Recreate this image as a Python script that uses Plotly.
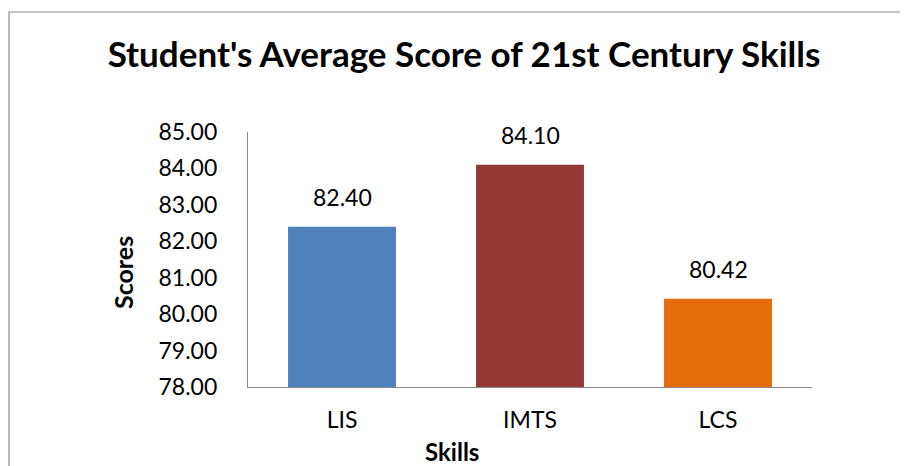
import plotly.graph_objects as go

categories = ["LIS", "IMTS", "LCS"]
scores = [82.40, 84.10, 80.42]
colors = ["#4F81BD", "#953735", "#E46C0A"]
y_ticks = [78, 79, 80, 81, 82, 83, 84, 85]
title_text = "Student's Average Score of 21st Century Skills"

FONT = "Lato"
OFF = 8  # page body margin
W, H = 908 - OFF, 466 - OFF
L, T = 248 - OFF, 132 - OFF
R = W - (812 - OFF)
B = H - (387 - OFF)
pw, ph = W - L - R, H - T - B

def px_x(px):
    return (px - OFF - L) / pw

def px_y(py):
    return (H - B - (py - OFF)) / ph

fig = go.Figure()
fig.add_trace(go.Bar(
    x=categories, y=scores, marker_color=colors, width=0.574,
    marker_line_width=0, hoverinfo="skip",
))

for c, v in zip(categories, scores):
    fig.add_annotation(x=c, y=v, text=f"{v:.2f}", showarrow=False,
                       yanchor="bottom", yshift=14,
                       font=dict(family=FONT, size=23, color="#000000"))

fig.add_annotation(xref="paper", yref="paper", x=px_x(123), y=px_y(273),
                   xanchor="center", yanchor="middle",
                   text="<b>Scores</b>", textangle=-90, showarrow=False,
                   font=dict(family=FONT, size=25, color="#000000"))
fig.add_annotation(xref="paper", yref="paper", x=px_x(452), y=px_y(451),
                   xanchor="center", yanchor="middle",
                   text="<b>Skills</b>", showarrow=False,
                   font=dict(family=FONT, size=24, color="#000000"))

fig.add_shape(type="rect", xref="paper", yref="paper",
              x0=px_x(9), x1=px_x(930), y0=px_y(490), y1=px_y(12),
              line=dict(color="#898989", width=1.2), fillcolor="rgba(0,0,0,0)",
              layer="below")

fig.update_layout(
    width=W, height=H,
    margin=dict(l=L, r=R, t=T, b=B, pad=0),
    paper_bgcolor="white", plot_bgcolor="white",
    showlegend=False,
    title=dict(text=f"<b>{title_text}</b>", x=(464 - OFF) / W, xanchor="center",
               y=1 - (55 - OFF) / H, yanchor="middle", yref="container",
               font=dict(family=FONT, size=35, color="#000000")),
    font=dict(family=FONT, color="#000000"),
)
fig.update_xaxes(showline=True, linecolor="#898989", linewidth=1.3,
                 ticks="", showgrid=False, ticklabelstandoff=12,
                 tickfont=dict(family=FONT, size=23, color="#000000"))
fig.update_yaxes(range=[78, 85], tickvals=y_ticks, tickformat=".2f",
                 showline=True, linecolor="#898989", linewidth=1.3,
                 ticks="", showgrid=False, zeroline=False, ticklabelstandoff=25,
                 tickfont=dict(family=FONT, size=23, color="#000000"))

fig.write_html("out.html")
